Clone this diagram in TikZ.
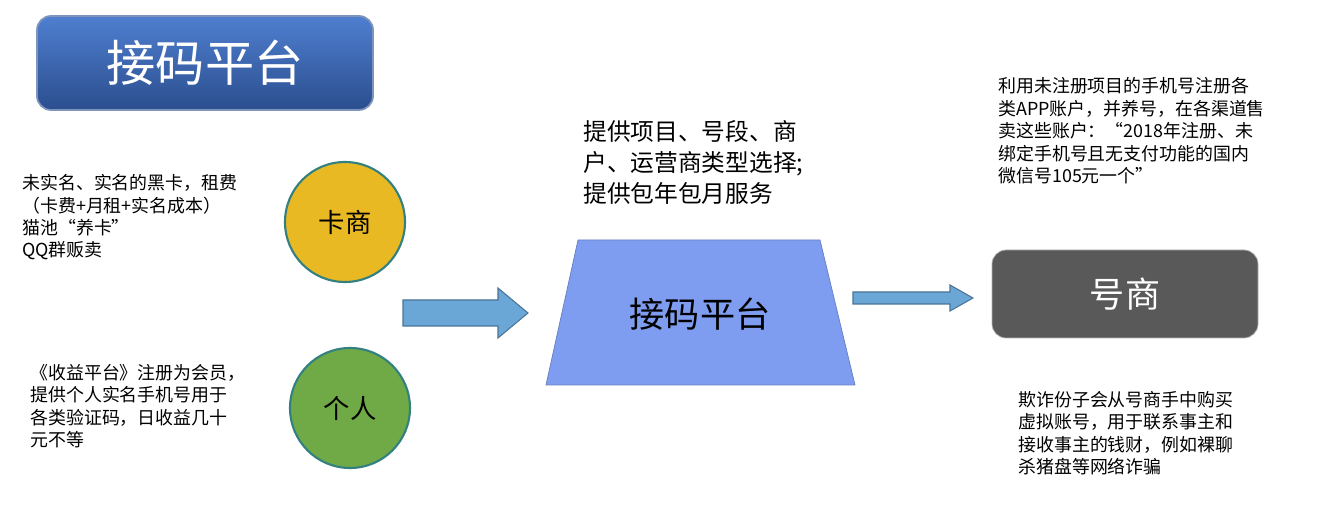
\documentclass[tikz,border=0pt]{standalone}
\usepackage{fontspec}
\setmainfont{Noto Sans CJK SC}
\definecolor{titletop}{HTML}{4F7FD0}
\definecolor{titlebot}{HTML}{2B4E8E}
\definecolor{cardgold}{HTML}{E8B923}
\definecolor{persgreen}{HTML}{6FAA46}
\definecolor{arrowblue}{HTML}{6AA6D6}
\definecolor{platblue}{HTML}{7F9DF0}
\definecolor{darkbox}{HTML}{595959}

\begin{document}
\begin{tikzpicture}[x=0.02cm,y=-0.02cm,
    note/.style={anchor=north west,align=left,font=\fontsize{10.2}{12.8}\selectfont,inner sep=0pt},
    party/.style={circle,minimum size=120*0.02cm,draw=teal!60!gray,line width=1.2pt,font=\fontsize{15}{17}\selectfont},
    blockarrow/.style={draw=arrowblue!70!black,fill=arrowblue,line width=0.6pt}]
\useasboundingbox (0,0) rectangle (1322,519);

\node[rounded corners=8pt,top color=titletop,bottom color=titlebot,draw=titlebot!60,line width=1pt,
      minimum width=336*0.02cm,minimum height=94*0.02cm,text=white,font=\fontsize{28}{32}\selectfont]
    (title) at (205,63) {接码平台};

\node[note] (cardnote) at (22,174) {未实名、实名的黑卡，租费\\（卡费+月租+实名成本）\\猫池“养卡”\\QQ群贩卖};
\node[party,fill=cardgold] (card) at (345,222) {卡商};

\node[note] (persnote) at (30,364) {《收益平台》注册为会员，\\提供个人实名手机号用于\\各类验证码，日收益几十\\元不等};
\node[party,fill=persgreen] (pers) at (350,408) {个人};

% block arrows
\draw[blockarrow] (403,300) -- (498,300) -- (498,288) -- (528,313) -- (498,338) -- (498,326) -- (403,326) -- cycle;
\draw[blockarrow] (853,292) -- (950,292) -- (950,285) -- (973,298) -- (950,311) -- (950,304) -- (853,304) -- cycle;

% platform
\draw[fill=platblue,draw=platblue!80!black] (578,240) -- (820,240) -- (855,385) -- (546,385) -- cycle;
\node[font=\fontsize{20}{24}\selectfont] (plat) at (700,314) {接码平台};
\node[note,font=\fontsize{13.5}{17.8}\selectfont] (platnote) at (583,120) {提供项目、号段、商\\户、运营商类型选择;\\提供包年包月服务};

\node[rounded corners=8pt,fill=darkbox,draw=gray!60,minimum width=266*0.02cm,minimum height=88*0.02cm,
      text=white,font=\fontsize{20}{24}\selectfont] (dealer) at (1125,294) {号商};

\node[note] (usenote) at (998,77) {利用未注册项目的手机号注册各\\类APP账户，并养号，在各渠道售\\卖这些账户：“2018年注册、未\\绑定手机号且无支付功能的国内\\微信号105元一个”};
\node[note] (fraudnote) at (1018,391) {欺诈份子会从号商手中购买\\虚拟账号，用于联系事主和\\接收事主的钱财，例如裸聊\\杀猪盘等网络诈骗};
\end{tikzpicture}
\end{document}
